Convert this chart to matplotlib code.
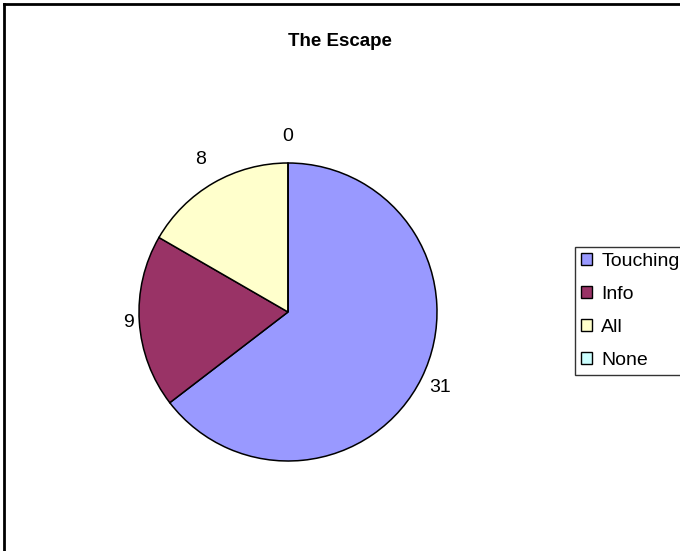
import matplotlib.pyplot as plt
from matplotlib.lines import Line2D
from matplotlib.patches import Patch
import numpy as np

plt.rcParams['font.family'] = ['Liberation Sans', 'DejaVu Sans']

# Data
categories = ['Touching', 'Info', 'All', 'None']
counts = [31, 9, 8, 0]
colors = ['#9999FF', '#993366', '#FFFFCC', '#CCFFFF']
title = 'The Escape'

# label distance (fraction of radius), Excel-like placement
label_dist = [1.14, 1.07, 1.18, 1.18]

W, H = 680, 551
fig = plt.figure(figsize=(W / 100, H / 100), dpi=100)
ax = fig.add_axes([0, 0, 1, 1])

cx, cy, R = 288, H - 312, 149
wedges, _ = ax.pie(counts, colors=colors, startangle=90, counterclock=False,
                   radius=R, center=(cx, cy),
                   wedgeprops=dict(edgecolor='black', linewidth=1.1))
ax.set_xlim(0, W)
ax.set_ylim(0, H)
ax.set_aspect('equal')
ax.axis('off')

# value labels outside the slices
for w, v, f in zip(wedges, counts, label_dist):
    ang = np.deg2rad((w.theta1 + w.theta2) / 2)
    ax.text(cx + f * R * np.cos(ang), cy + f * R * np.sin(ang), str(v),
            ha='center', va='center', fontsize=14)

fig.text(0.5, 1 - 41 / H, title, ha='center', va='center',
         fontsize=13.5, fontweight='bold')

# legend
handles = [Patch(facecolor=c, edgecolor='black', linewidth=1) for c in colors]
leg = fig.legend(handles, categories, loc='upper left',
                 bbox_to_anchor=(575 / W, 1 - 247 / H), fontsize=14,
                 frameon=True, fancybox=False, edgecolor='black',
                 handlelength=0.55, handleheight=0.55, handletextpad=0.5,
                 labelspacing=0.82, borderpad=0.3, borderaxespad=0)
leg.get_frame().set_linewidth(1)

# chart border (only left and top visible)
fig.add_artist(Line2D([4 / W, 4 / W], [0, 1 - 4 / H], color='black', linewidth=2))
fig.add_artist(Line2D([4 / W, 1], [1 - 4 / H, 1 - 4 / H], color='black', linewidth=2))

fig.savefig('out.png', dpi=100)
